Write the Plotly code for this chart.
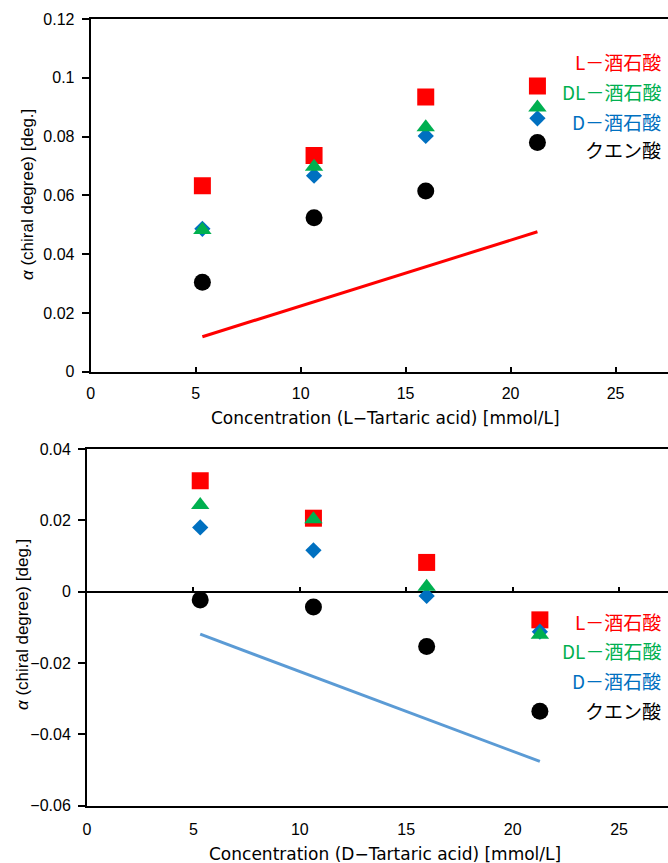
import plotly.graph_objects as go

# ---------------- data ----------------
conc = [5.32, 10.64, 15.96, 21.28]

# top: L-tartaric acid concentration
top_L = [0.0633, 0.0736, 0.0935, 0.0972]
top_DL = [0.0482, 0.0697, 0.0832, 0.0899]
top_D = [0.0486, 0.0667, 0.0802, 0.0862]
top_citric = [0.0304, 0.0524, 0.0615, 0.0780]
top_line = [0.0119, 0.0238, 0.0357, 0.0476]

# bottom: D-tartaric acid concentration
bot_L = [0.0311, 0.0206, 0.0082, -0.0079]
bot_DL = [0.0243, 0.0203, 0.0014, -0.0121]
bot_D = [0.0180, 0.0116, -0.0012, -0.0112]
bot_citric = [-0.0023, -0.0043, -0.0154, -0.0335]
bot_line = [-0.0119, -0.0238, -0.0357, -0.0476]

names = ["L－酒石酸", "DL－酒石酸", "D－酒石酸", "クエン酸"]
colors = ["#FF0000", "#00B050", "#0070C0", "#000000"]

W, H = 668, 863
FONT = "Liberation Sans, Arial, Noto Sans CJK JP"
TFONT = "DejaVu Sans, Noto Sans CJK JP"

fig = go.Figure()

def add_panel(xa, ya, L, DL, D, C, line, line_color):
    fig.add_trace(go.Scatter(x=conc, y=line, mode="lines",
                             line=dict(color=line_color, width=3),
                             xaxis=xa, yaxis=ya, showlegend=False))
    fig.add_trace(go.Scatter(x=conc, y=L, mode="markers",
                             marker=dict(symbol="square", size=17, color=colors[0]),
                             xaxis=xa, yaxis=ya, showlegend=False))
    fig.add_trace(go.Scatter(x=conc, y=D, mode="markers",
                             marker=dict(symbol="diamond", size=12.5, color=colors[2]),
                             xaxis=xa, yaxis=ya, showlegend=False))
    fig.add_trace(go.Scatter(x=conc, y=DL, mode="markers",
                             marker=dict(symbol="triangle-up", size=16, color=colors[1]),
                             xaxis=xa, yaxis=ya, showlegend=False))
    fig.add_trace(go.Scatter(x=conc, y=C, mode="markers",
                             marker=dict(symbol="circle", size=17, color=colors[3]),
                             xaxis=xa, yaxis=ya, showlegend=False))

add_panel("x", "y", top_L, top_DL, top_D, top_citric, top_line, "#FF0000")
add_panel("x2", "y2", bot_L, bot_DL, bot_D, bot_citric, bot_line, "#5B9BD5")

# dummy trace for the zero-line tick axis
fig.add_trace(go.Scatter(x=[0], y=[0], mode="markers", marker=dict(opacity=0),
                         xaxis="x3", yaxis="y2", showlegend=False, hoverinfo="skip"))

top_dom = [1 - 371.7 / H, 1 - 19 / H]
bot_dom = [1 - 805.7 / H, 1 - 449 / H]
zero_pos = bot_dom[0] + 0.6 * (bot_dom[1] - bot_dom[0])

tickfont = dict(family=FONT, size=16, color="black")

fig.update_layout(
    template="none",
    width=W, height=H,
    margin=dict(l=0, r=0, t=0, b=0, pad=0, autoexpand=False),
    paper_bgcolor="white", plot_bgcolor="white",
    font=dict(family=FONT, color="black"),
    xaxis=dict(domain=[90.7 / W, 1], range=[0, 27.5], dtick=5, tick0=0,
               showline=True, linecolor="black", linewidth=2, mirror=True,
               ticks="inside", ticklen=5, tickwidth=1.5, tickcolor="black",
               showgrid=False, zeroline=False, tickfont=tickfont,
               ticklabelstandoff=6, anchor="y", automargin=False),
    yaxis=dict(domain=top_dom, range=[0, 0.12], dtick=0.02, tick0=0,
               showline=True, linecolor="black", linewidth=2, mirror=False,
               ticks="outside", ticklen=7, tickwidth=1.5, tickcolor="black",
               showgrid=False, zeroline=False, tickfont=tickfont,
               ticklabelstandoff=4, anchor="x", automargin=False),
    xaxis2=dict(domain=[87 / W, 1], range=[0, 27.3], dtick=5, tick0=0,
                showline=True, linecolor="black", linewidth=2, mirror=True,
                ticks="", showgrid=False, zeroline=False, tickfont=tickfont,
                ticklabelstandoff=8, anchor="y2", automargin=False),
    xaxis3=dict(overlaying="x2", anchor="free", position=zero_pos,
                range=[0, 27.3], dtick=5, tick0=0, showline=False,
                ticks="inside", ticklen=5, tickwidth=1.5, tickcolor="black",
                showticklabels=False, showgrid=False, zeroline=False,
                automargin=False),
    yaxis2=dict(domain=bot_dom, range=[-0.06, 0.04], dtick=0.02, tick0=-0.06,
                showline=True, linecolor="black", linewidth=2, mirror=False,
                ticks="outside", ticklen=7, tickwidth=1.5, tickcolor="black",
                showgrid=False, zeroline=True, zerolinecolor="black",
                zerolinewidth=1.5, tickfont=tickfont, ticklabelstandoff=4,
                anchor="x2", automargin=False),
)

ann = []
title_font = dict(family=TFONT, size=17, color="black")
ytitle_font = dict(family=FONT, size=17, color="black")
# axis titles
ann.append(dict(text="Concentration (L−Tartaric acid) [mmol/L]", x=385 / W, y=1 - 418 / H,
                xref="paper", yref="paper", showarrow=False, font=title_font,
                xanchor="center", yanchor="middle"))
ann.append(dict(text="<i>α</i> (chiral degree) [deg.]", x=27 / W, y=1 - 195 / H,
                xref="paper", yref="paper", showarrow=False, font=ytitle_font,
                textangle=-90, xanchor="center", yanchor="middle"))
ann.append(dict(text="Concentration (D−Tartaric acid) [mmol/L]", x=385 / W, y=1 - 854 / H,
                xref="paper", yref="paper", showarrow=False, font=title_font,
                xanchor="center", yanchor="middle"))
ann.append(dict(text="<i>α</i> (chiral degree) [deg.]", x=22 / W, y=1 - 625 / H,
                xref="paper", yref="paper", showarrow=False, font=ytitle_font,
                textangle=-90, xanchor="center", yanchor="middle"))

# legend-like labels
top_leg_y = [61.7, 91.7, 121.7, 150]
bot_leg_y = [621.7, 650.7, 680.7, 710]
for name, col, yt, yb in zip(names, colors, top_leg_y, bot_leg_y):
    for yy in (yt, yb):
        ann.append(dict(text=name, x=663 / W, y=1 - yy / H, xref="paper", yref="paper",
                        showarrow=False, xanchor="right", yanchor="middle",
                        font=dict(family="Noto Sans CJK JP", size=19, color=col)))

fig.update_layout(annotations=ann)

fig.write_html("out.html", post_script="document.body.style.margin='0';",
               config={"displayModeBar": False})
